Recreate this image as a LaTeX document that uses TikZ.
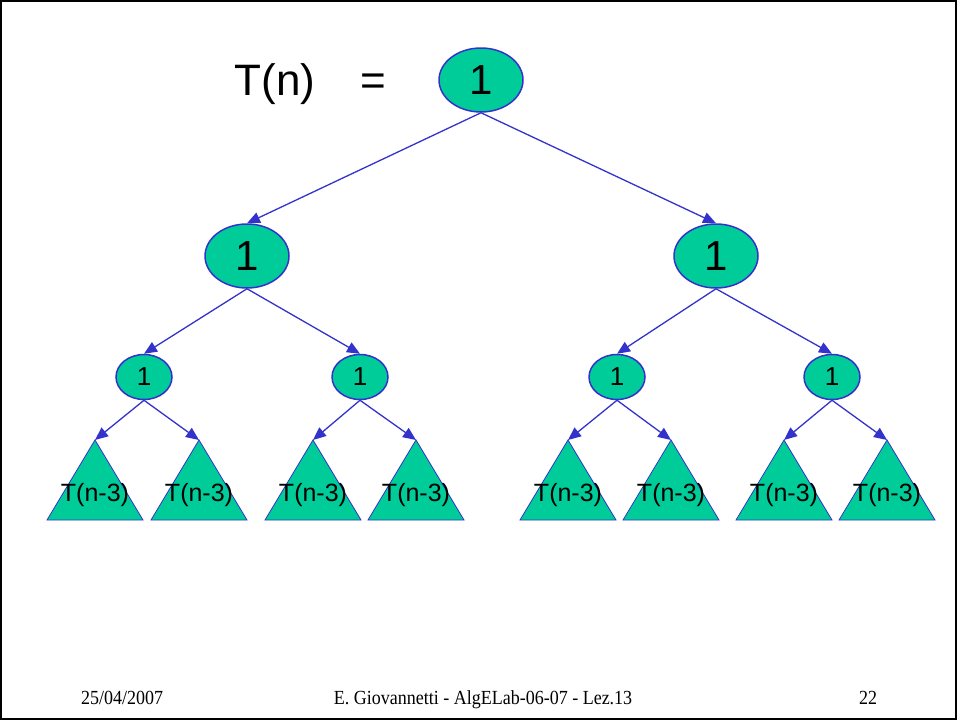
\documentclass[tikz,border=0pt]{standalone}
\usepackage{fontspec}
\setmainfont{Liberation Serif}
\newfontfamily\arialfont{Liberation Sans}
\usetikzlibrary{shapes.geometric,arrows.meta}
\definecolor{nodefill}{RGB}{0,204,153}
\definecolor{edgeblue}{RGB}{51,51,204}
\tikzset{
  bignode/.style={ellipse,draw=edgeblue,fill=nodefill,line width=1.5pt,
    minimum width=84pt,minimum height=64pt,inner sep=0pt,
    font=\arialfont\fontsize{42}{42}\selectfont},
  smallnode/.style={ellipse,draw=edgeblue,fill=nodefill,line width=1.5pt,
    minimum width=56pt,minimum height=45pt,inner sep=0pt,
    font=\arialfont\fontsize{26}{26}\selectfont},
  edge/.style={draw=edgeblue,line width=1.3pt,
    -{Triangle[length=13pt,width=11pt]}},
  subtree/.style={fill=nodefill,draw=edgeblue,line width=0.8pt},
  subtreelabel/.style={font=\arialfont\fontsize{25}{25}\selectfont,inner sep=0pt},
  titletext/.style={font=\arialfont\fontsize{44}{44}\selectfont,inner sep=0pt,anchor=base},
  footer/.style={font=\fontsize{20}{20}\selectfont,inner sep=0pt,anchor=base}
}
\begin{document}
\begin{tikzpicture}[x=1pt,y=-1pt]
\useasboundingbox (0,0) rectangle (957,720);
\draw[line width=2pt] (1,1) rectangle (956,719);

% title
\node[titletext] (lhs) at (275,95) {T(n)};
\node[titletext] (eq) at (373,95) {=};

% tree nodes
\node[bignode] (r) at (481,80) {1};
\node[bignode] (a) at (247,256) {1};
\node[bignode] (b) at (716,256) {1};
\node[smallnode] (aa) at (144,377) {1};
\node[smallnode] (ab) at (360,377) {1};
\node[smallnode] (ba) at (617,377) {1};
\node[smallnode] (bb) at (832,377) {1};

% subtrees T(n-3)
\foreach \nm/\x in {t1/95,t2/199,t3/313,t4/416,t5/568,t6/671,t7/784,t8/887}{
  \coordinate (\nm) at (\x,440);
  \path[subtree] (\nm) -- ++(48,80) -- ++(-96,0) -- cycle;
  \node[subtreelabel] (\nm l) at (\x,495) {T(n-3)};
}

% connectors
\draw[edge] (r.south) -- (a.north);
\draw[edge] (r.south) -- (b.north);
\draw[edge] (a.south) -- (aa.north);
\draw[edge] (a.south) -- (ab.north);
\draw[edge] (b.south) -- (ba.north);
\draw[edge] (b.south) -- (bb.north);
\draw[edge] (aa.south) -- (t1);
\draw[edge] (aa.south) -- (t2);
\draw[edge] (ab.south) -- (t3);
\draw[edge] (ab.south) -- (t4);
\draw[edge] (ba.south) -- (t5);
\draw[edge] (ba.south) -- (t6);
\draw[edge] (bb.south) -- (t7);
\draw[edge] (bb.south) -- (t8);

% footer
\node[footer] (date) at (122,704) {\scalebox{0.9}[1]{25/04/2007}};
\node[footer] (author) at (483,704) {\scalebox{0.9}[1]{E. Giovannetti - AlgELab-06-07 - Lez.13}};
\node[footer] (page) at (868,704) {\scalebox{0.9}[1]{22}};
\end{tikzpicture}
\end{document}
